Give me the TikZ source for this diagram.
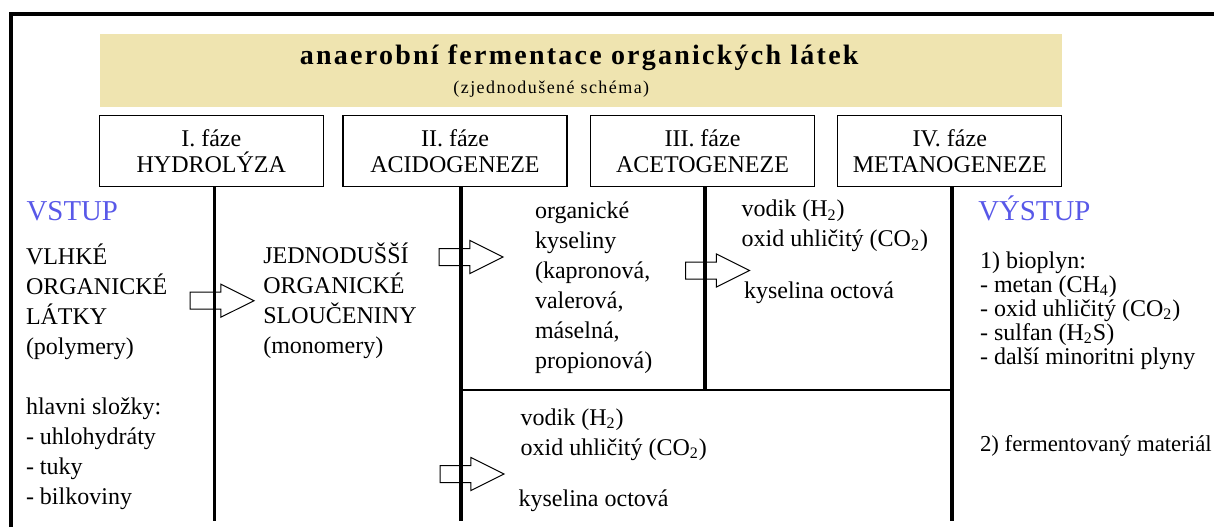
\documentclass[tikz,border=0pt]{standalone}
\usepackage{fontspec}
\setmainfont{Liberation Serif}
\usetikzlibrary{shapes.arrows}

\definecolor{bandtan}{RGB}{239,228,176}
\definecolor{vstupblue}{RGB}{88,88,232}

\begin{document}
\begin{tikzpicture}
  [x=0.5pt, y=-0.5pt,
   every node/.style={inner sep=0pt, outer sep=0pt},
   band/.style={fill=bandtan, minimum width=481pt, minimum height=36.3pt},
   phase/.style={draw, line width=0.6pt, minimum width=112pt, minimum height=35.5pt,
                 align=center, font=\fontsize{12}{13}\selectfont},
   txt/.style={anchor=base west, align=left, font=\fontsize{12}{15}\selectfont},
   io/.style={anchor=base west, text=vstupblue, font=\fontsize{14.4}{16}\selectfont},
   flow/.style={single arrow, draw, fill=white, line width=0.5pt, anchor=tip,
                inner ysep=4pt, minimum height=32pt, minimum width=16pt,
                single arrow head extend=4pt, single arrow tip angle=53},
   pipe/.style={line width=1.6pt},
   split/.style={line width=0.6pt}]
  \useasboundingbox (0,0) rectangle (1214,527);
  \draw[pipe] (11,527) |- (1214,14);

  \node[band] (band) at (581,70.3) {};
  \node[anchor=base, font=\fontsize{14}{16}\selectfont\bfseries\addfontfeatures{LetterSpace=8}]
    (title) at (579.2,64) {anaerobní fermentace organických látek};
  \node[anchor=base, font=\fontsize{9}{11}\selectfont\addfontfeatures{LetterSpace=8}]
    (subtitle) at (551.3,93) {(zjednodušené schéma)};

  \node[phase] (ph1) at (211.3,151.2) {I. fáze\\HYDROLÝZA};
  \node[phase] (ph2) at (455,151.2) {II. fáze\\ACIDOGENEZE};
  \node[phase] (ph3) at (702.5,151.2) {III. fáze\\ACETOGENEZE};
  \node[phase] (ph4) at (949.8,151.2) {IV. fáze\\METANOGENEZE};

  % multi-line texts are placed at the baseline of their last line
  \node[io] (vstup) at (26.7,220) {VSTUP};
  \node[txt] (input) at (26,504.5) {VLHKÉ\\ORGANICKÉ\\LÁTKY\\(polymery)\\[15pt]
    hlavni složky:\\- uhlohydráty\\- tuky\\- bilkoviny};
  \node[txt] (monomers) at (263.3,353) {JEDNODUŠŠÍ\\ORGANICKÉ\\SLOUČENINY\\(monomery)};
  \node[txt] (acids) at (535,368) {organické\\kyseliny\\(kapronová,\\valerová,\\máselná,\\propionová)};
  \node[txt] (gasA) at (741.7,246.5) {vodik (H\textsubscript{2})\\oxid uhličitý (CO\textsubscript{2})};
  \node[txt] (acetA) at (744,298) {kyselina octová};
  \node[txt] (gasB) at (520.6,455) {vodik (H\textsubscript{2})\\oxid uhličitý (CO\textsubscript{2})};
  \node[txt] (acetB) at (518.6,506) {kyselina octová};
  \node[io] (vystup) at (978.3,220) {VÝSTUP};
  \node[txt, font=\fontsize{12}{12}\selectfont] (biogas) at (980,364.3) {1) bioplyn:\\- metan (CH\textsubscript{4})\\
    - oxid uhličitý (CO\textsubscript{2})\\- sulfan (H\textsubscript{2}S)\\- další minoritni plyny};
  \node[txt, font=\fontsize{11.4}{14}\selectfont] (digest) at (980,451) {2) fermentovaný materiál};

  \node[flow] (arr1) at (254,300.7) {};
  \node[flow] (arr2) at (503,257) {};
  \node[flow] (arr3) at (749.5,270.5) {};
  \node[flow] (arr4) at (504,474) {};

  \coordinate (b1) at (214.3,521);
  \coordinate (b2) at (461,521);
  \coordinate (j3) at (705,390);
  \coordinate (b4) at (952,521);
  \draw[pipe] (b1 |- ph1.south) -- (b1);
  \draw[pipe] (b2 |- ph2.south) -- (b2);
  \draw[pipe] (j3 |- ph3.south) -- (j3);
  \draw[pipe] (b4 |- ph4.south) -- (b4);
  \draw[split] (b2 |- j3) -- (b4 |- j3);
\end{tikzpicture}
\end{document}
